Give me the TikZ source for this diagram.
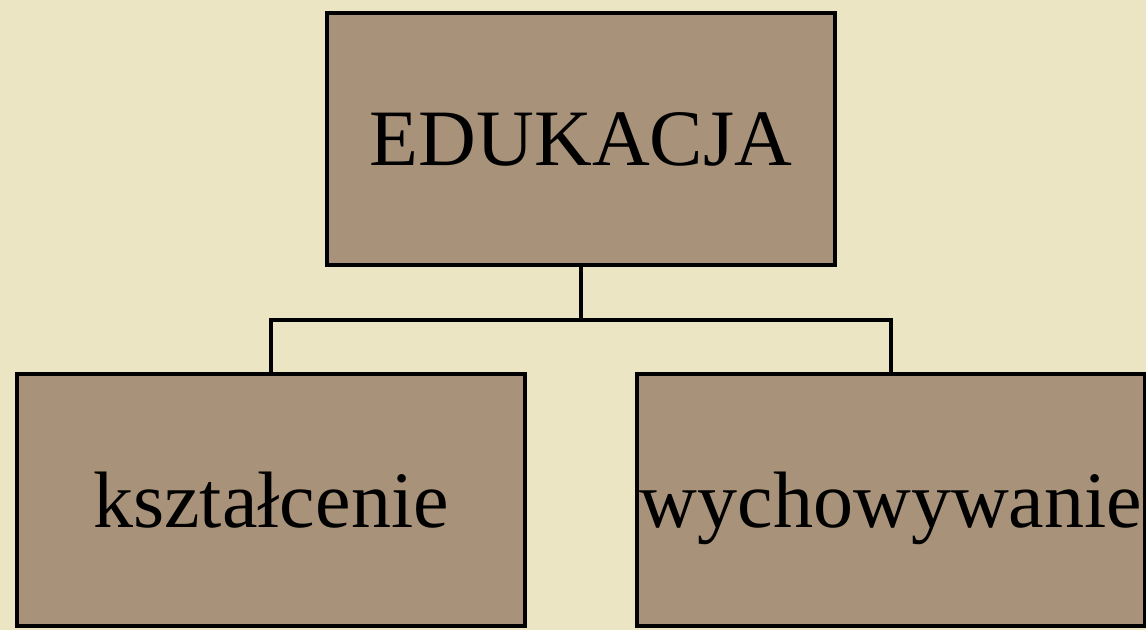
\documentclass[tikz,border=0pt]{standalone}
\usepackage{fontspec}
\setmainfont{Liberation Serif}
\definecolor{bgbeige}{HTML}{ECE5C4}
\definecolor{boxbrown}{HTML}{A8937A}
\begin{document}
\begin{tikzpicture}[x=1pt,y=1pt,
  conceptbox/.style={draw=black, line width=4pt, fill=boxbrown, minimum width=508pt, minimum height=252pt, inner sep=0pt, text height=70pt, text depth=16pt, font=\fontsize{80}{96}\selectfont},
  link/.style={draw=black, line width=4pt}]
\useasboundingbox (0,0) rectangle (1146,630);
\fill[bgbeige] (0,0) rectangle (1146,630);
\node[conceptbox] (top) at (581,491) {EDUKACJA};
\node[conceptbox] (left) at (271,130) {kształcenie};
\node[conceptbox] (right) at (891,130) {wychowywanie};
\coordinate (bus) at (581,310);
\draw[link] (top.south) -- (bus);
\draw[link] (left.north) |- (bus) -| (right.north);
\end{tikzpicture}
\end{document}
